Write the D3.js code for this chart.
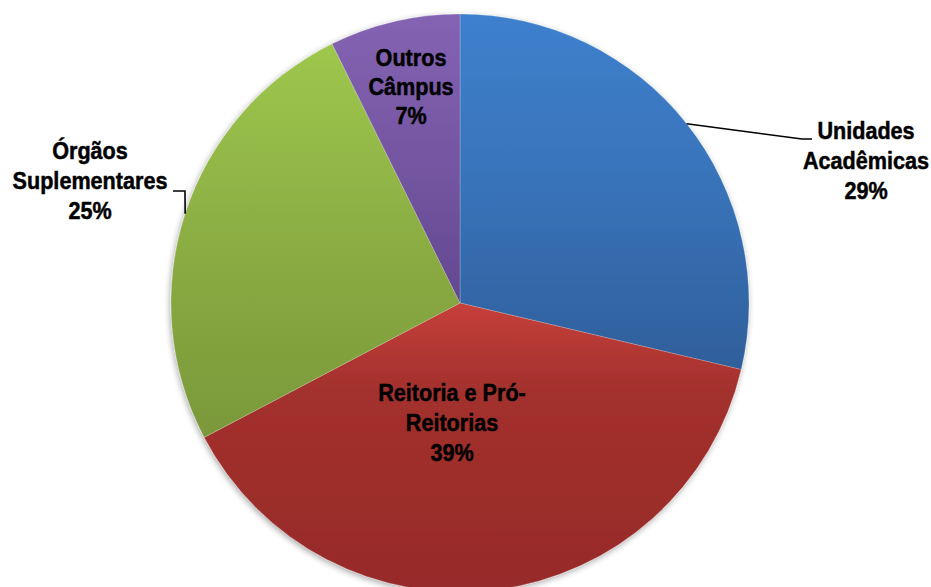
<!DOCTYPE html>
<html><head><meta charset="utf-8">
<script src="https://cdn.jsdelivr.net/npm/d3@7/dist/d3.min.js"></script>
<style>html,body{margin:0;padding:0;background:#fff;}svg{display:block;}</style>
</head><body>
<script>
// ---- data ----
const categories = ["Unidades Acadêmicas", "Reitoria e Pró-Reitorias", "Órgãos Suplementares", "Outros Câmpus"];
const values = [28.7, 38.6, 25.4, 7.3];
const labelLines = [["Unidades", "Acadêmicas"], ["Reitoria e Pró-", "Reitorias"], ["Órgãos", "Suplementares"], ["Outros", "Câmpus"]];

// ---- layout / style ----
const W = 931, H = 587;
const cx = 460, cy = 303, R = 289;
const grads = [
  [["0", "#3e80cd"], ["0.5", "#3872b8"], ["1", "#2f5f9b"]],
  [["0", "#c6403b"], ["0.3", "#a3302d"], ["1", "#972b29"]],
  [["0", "#9ec74d"], ["0.5", "#8bad43"], ["1", "#7a983a"]],
  [["0", "#8463b3"], ["0.5", "#7556a2"], ["1", "#634890"]]
];
// label anchor: centre x and middle-line baseline, relative to pie centre
const labelAnchor = [[406, -134], [-8, 128], [-370, -114], [-49, -208]];
const lineGap = [30, 30, 30, 29.5];
// leader polylines: elbow and end relative to pie centre (start is on the arc at mid-angle)
const leaders = {0: [[342, -164], [352, -164]], 2: [[-275, -112], [-287, -112]]};

const svg = d3.select("body").append("svg").attr("width", W).attr("height", H);
const defs = svg.append("defs");
grads.forEach((g, i) => {
  const lg = defs.append("linearGradient").attr("id", "g" + i).attr("x1", 0).attr("y1", 0).attr("x2", 0).attr("y2", 1);
  g.forEach(s => lg.append("stop").attr("offset", s[0]).attr("stop-color", s[1]));
});
const f = defs.append("filter").attr("id", "sh").attr("x", "-10%").attr("y", "-10%").attr("width", "120%").attr("height", "120%");
f.append("feGaussianBlur").attr("in", "SourceAlpha").attr("stdDeviation", 3).attr("result", "b");
f.append("feOffset").attr("in", "b").attr("dx", -1).attr("dy", 2).attr("result", "o");
f.append("feComponentTransfer").attr("in", "o").attr("result", "o2").append("feFuncA").attr("type", "linear").attr("slope", 0.35);
const m = f.append("feMerge"); m.append("feMergeNode").attr("in", "o2"); m.append("feMergeNode").attr("in", "SourceGraphic");

const pie = d3.pie().sort(null).value(d => d)(values);
const arc = d3.arc().innerRadius(0).outerRadius(R);
const g = svg.append("g").attr("transform", `translate(${cx},${cy})`);
const slices = g.append("g").attr("filter", "url(#sh)");
slices.selectAll("path").data(pie).enter().append("path")
  .attr("d", arc).attr("fill", (d, i) => `url(#g${i})`)
  .attr("stroke", "rgba(255,255,255,0.35)").attr("stroke-width", 0.6);

// leader lines
pie.forEach((d, i) => {
  if (!leaders[i]) return;
  const a = (d.startAngle + d.endAngle) / 2;
  const p0 = [R * Math.sin(a), -R * Math.cos(a)];
  g.append("polyline").attr("points", [p0, ...leaders[i]].map(p => p.join(",")).join(" "))
    .attr("fill", "none").attr("stroke", "#000").attr("stroke-width", 1.6);
});

// labels
pie.forEach((d, i) => {
  const pct = Math.round(d.value / d3.sum(values) * 100) + "%";
  const lines = labelLines[i].concat([pct]);
  const [ax, ay] = labelAnchor[i];
  const t = g.append("g").attr("transform", `translate(${ax},${ay}) scale(0.9,1)`);
  lines.forEach((s, k) => {
    t.append("text").attr("x", 0).attr("y", (k - 1) * lineGap[i])
      .attr("text-anchor", "middle")
      .style("font-family", "'Liberation Sans', Arial, sans-serif")
      .style("font-weight", "bold").style("font-size", "24px").attr("fill", "#000")
      .attr("stroke", "#000").attr("stroke-width", 0.5)
      .text(s);
  });
});
</script>
</body></html>
